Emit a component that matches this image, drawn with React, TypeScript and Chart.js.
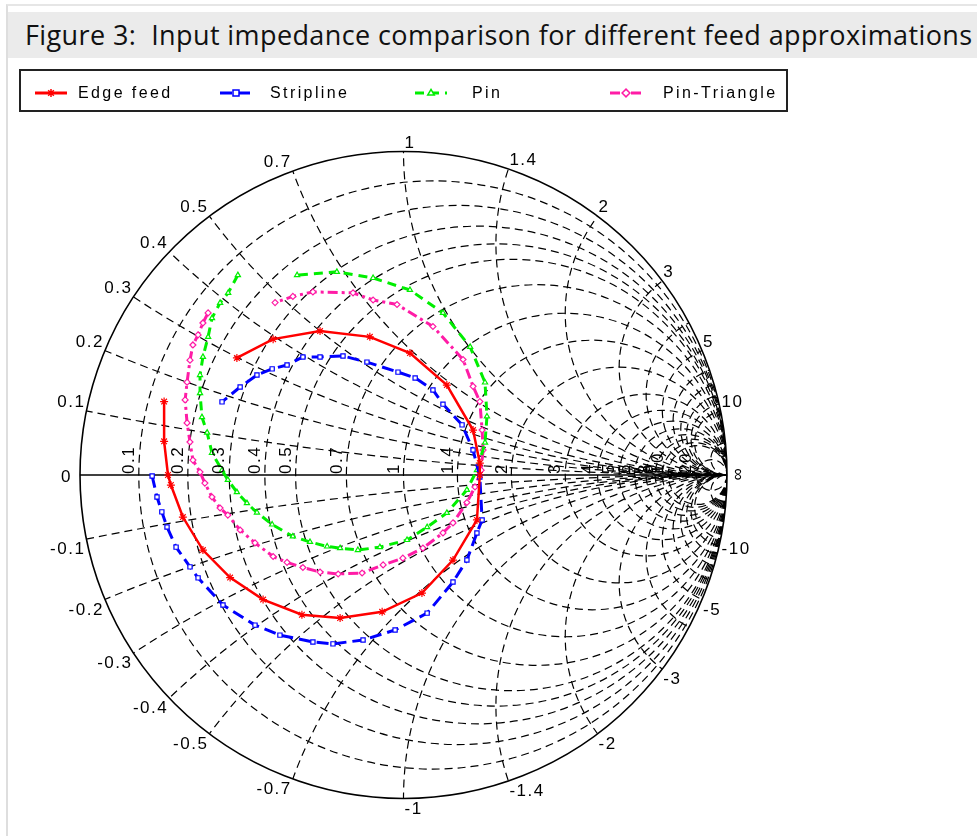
import React, { useEffect, useRef } from "react";
import { Chart, registerables } from "chart.js";

Chart.register(...registerables);

const TITLE = "Figure 3:  Input impedance comparison for different feed approximations";
const SERIES_NAMES = ["Edge feed", "Stripline", "Pin", "Pin-Triangle"];

const edgeRe = [-0.740, -0.740, -0.728, -0.719, -0.682, -0.620, -0.536, -0.434, -0.314, -0.196, -0.066, 0.057, 0.153, 0.227, 0.236, 0.236, 0.215, 0.134, 0.020, -0.104, -0.258, -0.403, -0.515];
const edgeIm = [0.227, 0.104, 0.000, -0.031, -0.130, -0.232, -0.317, -0.385, -0.432, -0.442, -0.423, -0.365, -0.263, -0.139, 0.000, 0.037, 0.139, 0.278, 0.377, 0.427, 0.445, 0.420, 0.362];

const striplineRe = [-0.777, -0.762, -0.747, -0.731, -0.703, -0.660, -0.635, -0.558, -0.459, -0.382, -0.280, -0.218, -0.125, -0.026, 0.073, 0.153, 0.196, 0.227, 0.243, 0.236, 0.215, 0.181, 0.122, 0.091, 0.036, -0.017, -0.113, -0.187, -0.258, -0.311, -0.360, -0.406, -0.453, -0.505, -0.561];
const striplineIm = [-0.003, -0.068, -0.114, -0.161, -0.223, -0.284, -0.318, -0.402, -0.464, -0.495, -0.516, -0.522, -0.510, -0.479, -0.427, -0.331, -0.263, -0.179, -0.139, -0.006, 0.077, 0.155, 0.219, 0.263, 0.300, 0.318, 0.349, 0.368, 0.365, 0.365, 0.340, 0.328, 0.309, 0.272, 0.226];

const pinRe = [-0.512, -0.542, -0.567, -0.592, -0.604, -0.620, -0.629, -0.629, -0.623, -0.607, -0.592, -0.561, -0.543, -0.515, -0.484, -0.453, -0.406, -0.342, -0.289, -0.236, -0.196, -0.141, -0.073, 0.011, 0.073, 0.134, 0.196, 0.227, 0.252, 0.258, 0.252, 0.206, 0.122, 0.020, -0.094, -0.206, -0.329];
const pinIm = [0.618, 0.563, 0.532, 0.485, 0.427, 0.365, 0.309, 0.253, 0.179, 0.131, 0.068, 0.015, -0.015, -0.053, -0.087, -0.116, -0.153, -0.190, -0.207, -0.221, -0.226, -0.232, -0.223, -0.201, -0.161, -0.117, -0.046, 0.015, 0.100, 0.181, 0.286, 0.396, 0.501, 0.572, 0.609, 0.628, 0.618];

const pinTriRe = [-0.604, -0.620, -0.635, -0.651, -0.660, -0.669, -0.675, -0.669, -0.660, -0.651, -0.629, -0.614, -0.592, -0.567, -0.543, -0.505, -0.459, -0.403, -0.360, -0.311, -0.258, -0.202, -0.128, -0.063, -0.002, 0.060, 0.122, 0.153, 0.196, 0.221, 0.240, 0.246, 0.243, 0.236, 0.215, 0.184, 0.091, -0.020, -0.094, -0.156, -0.280, -0.342, -0.397];
const pinTriIm = [0.501, 0.470, 0.433, 0.402, 0.355, 0.287, 0.232, 0.161, 0.102, 0.046, 0.009, -0.025, -0.068, -0.102, -0.124, -0.170, -0.210, -0.252, -0.270, -0.286, -0.300, -0.306, -0.303, -0.278, -0.257, -0.226, -0.179, -0.148, -0.085, -0.037, 0.015, 0.077, 0.139, 0.227, 0.274, 0.357, 0.459, 0.527, 0.541, 0.563, 0.566, 0.552, 0.533];

// Smith chart grid values (normalised resistance / reactance)
const R_GRID = [0.1, 0.2, 0.3, 0.4, 0.5, 0.7, 1, 1.4, 2, 3, 4, 5, 6, 7, 8, 9, 10, 20];
const X_GRID = [0.1, 0.2, 0.3, 0.4, 0.5, 0.7, 1, 1.4, 2, 3, 4, 5, 6, 7, 8, 9, 10, 20];
const X_LABELS = [0.1, 0.2, 0.3, 0.4, 0.5, 0.7, 1, 1.4, 2, 3, 5, 10];
const R_LABELS = [0.1, 0.2, 0.3, 0.4, 0.5, 0.7, 1, 1.4, 2, 3, 4, 5, 6, 7, 8, 9, 10, 20];

const COLORS = ["#ff0000", "#0000ff", "#00ee00", "#ff1ca6"];
const LINE_DASH = [[], [12, 6], [9, 6], [10, 4, 3, 4]];
const POINT_STYLES = ["star", "rect", "triangle", "rectRot"];
const POINT_RADIUS = [4, 3, 3, 3];

const LABEL_FONT = '17px "Liberation Sans", Arial, sans-serif';

function drawMarker(ctx: CanvasRenderingContext2D, style: string, r: number, x: number, y: number, color: string) {
  ctx.save();
  ctx.strokeStyle = color;
  ctx.fillStyle = "#fff";
  ctx.lineWidth = 1.5;
  ctx.setLineDash([]);
  ctx.beginPath();
  if (style === "star") {
    for (let k = 0; k < 4; k++) {
      const a = (k * Math.PI) / 4;
      ctx.moveTo(x - r * Math.cos(a), y - r * Math.sin(a));
      ctx.lineTo(x + r * Math.cos(a), y + r * Math.sin(a));
    }
    ctx.stroke();
  } else if (style === "rect") {
    ctx.rect(x - r, y - r, 2 * r, 2 * r);
    ctx.fill();
    ctx.stroke();
  } else if (style === "triangle") {
    ctx.moveTo(x, y - r * 1.2);
    ctx.lineTo(x + r * 1.1, y + r * 0.7);
    ctx.lineTo(x - r * 1.1, y + r * 0.7);
    ctx.closePath();
    ctx.fill();
    ctx.stroke();
  } else {
    ctx.moveTo(x, y - r * 1.3);
    ctx.lineTo(x + r * 1.3, y);
    ctx.lineTo(x, y + r * 1.3);
    ctx.lineTo(x - r * 1.3, y);
    ctx.closePath();
    ctx.fill();
    ctx.stroke();
  }
  ctx.restore();
}

const smithPlugin = {
  id: "smithGrid",
  beforeDatasetsDraw(chart: any) {
    const ctx = chart.ctx;
    const xs = chart.scales.x;
    const ys = chart.scales.y;
    const cx = xs.getPixelForValue(0);
    const cy = ys.getPixelForValue(0);
    const R = xs.getPixelForValue(1) - cx;
    ctx.save();
    ctx.beginPath();
    ctx.arc(cx, cy, R, 0, Math.PI * 2);
    ctx.clip();
    ctx.strokeStyle = "#000";
    ctx.lineWidth = 1.2;
    ctx.setLineDash([8, 5]);
    for (const r of R_GRID) {
      const c = r / (1 + r);
      const rad = 1 / (1 + r);
      ctx.beginPath();
      ctx.arc(xs.getPixelForValue(c), cy, rad * R, 0, Math.PI * 2);
      ctx.stroke();
    }
    for (const x of X_GRID) {
      for (const s of [1, -1]) {
        ctx.beginPath();
        ctx.arc(xs.getPixelForValue(1), ys.getPixelForValue(s / x), R / x, 0, Math.PI * 2);
        ctx.stroke();
      }
    }
    ctx.restore();
    ctx.save();
    ctx.strokeStyle = "#000";
    ctx.lineWidth = 1.6;
    ctx.beginPath();
    ctx.arc(cx, cy, R, 0, Math.PI * 2);
    ctx.stroke();
    ctx.beginPath();
    ctx.moveTo(cx - R, cy);
    ctx.lineTo(cx + R, cy);
    ctx.stroke();
    ctx.restore();
  },
  afterDraw(chart: any) {
    const ctx = chart.ctx;
    const xs = chart.scales.x;
    const ys = chart.scales.y;
    const cx = xs.getPixelForValue(0);
    const cy = ys.getPixelForValue(0);
    const R = xs.getPixelForValue(1) - cx;
    ctx.save();
    ctx.fillStyle = "#000";
    ctx.font = LABEL_FONT;
    (ctx as any).letterSpacing = "1.5px";
    for (const x of X_LABELS) {
      for (const s of [1, -1]) {
        const xv = s * x;
        const d = xv * xv + 1;
        const gr = (xv * xv - 1) / d;
        const gi = (2 * xv) / d;
        const px = xs.getPixelForValue(gr);
        const py = ys.getPixelForValue(gi);
        const left = gr < -0.01;
        ctx.textAlign = left ? "right" : "left";
        ctx.textBaseline = s > 0 ? "bottom" : "top";
        ctx.fillText(String(xv), px + (left ? -1 : 1), py + (s > 0 ? 0 : 2));
      }
    }
    ctx.textAlign = "right";
    ctx.textBaseline = "middle";
    ctx.fillText("0", cx - R - 8, cy + 2);
    ctx.save();
    ctx.translate(cx + R + 11, cy);
    ctx.rotate(Math.PI / 2);
    ctx.textAlign = "center";
    ctx.textBaseline = "middle";
    ctx.fillText("\u221e", 0, 0);
    ctx.restore();
    for (const r of R_LABELS) {
      const g = (r - 1) / (r + 1);
      const px = xs.getPixelForValue(g);
      ctx.save();
      ctx.translate(px - 1, cy - 1);
      ctx.rotate(-Math.PI / 2);
      ctx.textAlign = "left";
      ctx.textBaseline = "bottom";
      ctx.fillText(String(r), 0, 0);
      ctx.restore();
    }
    ctx.restore();

    // legend box
    ctx.save();
    ctx.strokeStyle = "#222";
    ctx.lineWidth = 2;
    ctx.strokeRect(20, 70, 767, 41);
    const sampleX = [35, 220, 415, 610];
    const textX = [78, 270, 472, 663];
    const ly = 93;
    ctx.font = '16px "Liberation Sans", Arial, sans-serif';
    (ctx as any).letterSpacing = "2.4px";
    ctx.textBaseline = "middle";
    ctx.textAlign = "left";
    for (let i = 0; i < SERIES_NAMES.length; i++) {
      ctx.strokeStyle = COLORS[i];
      ctx.lineWidth = 3;
      ctx.setLineDash(LINE_DASH[i]);
      ctx.beginPath();
      ctx.moveTo(sampleX[i], ly);
      ctx.lineTo(sampleX[i] + 32, ly);
      ctx.stroke();
      ctx.setLineDash([]);
      drawMarker(ctx, POINT_STYLES[i], POINT_RADIUS[i], sampleX[i] + 16, ly, COLORS[i]);
      ctx.fillStyle = "#000";
      ctx.fillText(SERIES_NAMES[i], textX[i], ly + 1);
    }
    ctx.restore();
  },
};

export default function App() {
  const ref = useRef<HTMLCanvasElement | null>(null);
  useEffect(() => {
    if (!ref.current) return;
    const series = [
      [edgeRe, edgeIm],
      [striplineRe, striplineIm],
      [pinRe, pinIm],
      [pinTriRe, pinTriIm],
    ];
    const chart = new Chart(ref.current, {
      type: "scatter",
      data: {
        datasets: series.map(([re, im], i) => ({
          label: SERIES_NAMES[i],
          data: re.map((v, k) => ({ x: v, y: im[k] })),
          showLine: true,
          borderColor: COLORS[i],
          backgroundColor: "#ffffff",
          pointBorderColor: COLORS[i],
          pointBackgroundColor: i === 0 ? COLORS[i] : "#ffffff",
          borderWidth: i === 0 ? 2.5 : 3,
          borderDash: LINE_DASH[i],
          pointStyle: POINT_STYLES[i],
          pointRadius: POINT_RADIUS[i],
          pointBorderWidth: 1.2,
          tension: 0,
        })),
      },
      options: {
        responsive: false,
        animation: false,
        devicePixelRatio: 1,
        layout: { padding: { left: 80, right: 250, top: 151.5, bottom: 37.5 } },
        scales: {
          x: { type: "linear", min: -1, max: 1, display: false },
          y: { type: "linear", min: -1, max: 1, display: false },
        },
        plugins: { legend: { display: false }, tooltip: { enabled: false } },
      },
      plugins: [smithPlugin],
    } as any);
    return () => chart.destroy();
  }, []);

  return (
    <div style={{ position: "fixed", left: 0, top: 0, width: 977, height: 836, background: "#fff", overflow: "hidden" }}>
      <canvas ref={ref} width={977} height={836} style={{ position: "absolute", left: 0, top: 0 }} />
      <div style={{ position: "absolute", left: 6, top: 4, right: 0, bottom: 0, borderLeft: "2px solid #dedede", borderTop: "2px solid #e6e6e6", pointerEvents: "none" }} />
      <div
        style={{
          position: "absolute",
          left: 8,
          top: 12,
          width: 969,
          height: 46,
          background: "#ebebeb",
          fontFamily: '"Open Sans", sans-serif',
          fontSize: 27,
          lineHeight: "46px",
          whiteSpace: "pre",
          color: "#111",
          paddingLeft: 17,
          boxSizing: "border-box",
          overflow: "hidden",
          letterSpacing: "0.4px",
        }}
      >
        {TITLE}
      </div>
    </div>
  );
}
